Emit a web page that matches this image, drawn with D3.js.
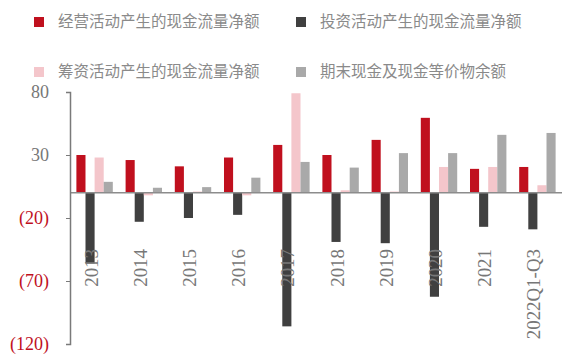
<!DOCTYPE html>
<html>
<head>
<meta charset="utf-8">
<script src="https://cdn.jsdelivr.net/npm/d3@7"></script>
<style>
  html, body { margin: 0; padding: 0; background: #fff; }
  svg { display: block; font-family: "Noto Sans CJK SC", "Noto Sans", sans-serif; }
</style>
</head>
<body>
<svg id="chart" width="577" height="356"></svg>
<script>
// Categories (years) and the four cash-flow series (亿元)
const years = ["2013", "2014", "2015", "2016", "2017", "2018", "2019", "2020", "2021", "2022Q1-Q3"];
const operating = [30, 26, 21, 28, 38, 30, 42, 59.5, 19, 20.5];
const investing = [-56, -23, -20, -17.5, -106, -39, -40, -82.5, -27, -29];
const financing = [28, -2, 1, -2, 79, 2, 1, 20.5, 20.5, 6];
const endingCash = [8.7, 4, 4.5, 12, 24.5, 20, 31.5, 31.5, 46, 47.5];

const seriesNames = ["经营活动产生的现金流量净额", "投资活动产生的现金流量净额", "筹资活动产生的现金流量净额", "期末现金及现金等价物余额"];
const seriesColors = ["#c0101e", "#404040", "#f4c6cb", "#a9a9a9"];
const yTicks = [80, 30, -20, -70, -120];

const seriesValues = [operating, investing, financing, endingCash];
const svg = d3.select("#chart");

const x0 = d3.scaleBand().domain(years).range([70, 562]).paddingInner(0.26).paddingOuter(0.13);
const x1 = d3.scaleBand().domain(d3.range(seriesNames.length)).range([0, x0.bandwidth()]).padding(0);
const y = d3.scaleLinear().domain([-120, 80]).range([344, 92]);

const fmt = v => v < 0 ? "(" + Math.abs(v) + ")" : String(v);

// Bars
const groups = svg.append("g").selectAll("g")
  .data(years).join("g")
  .attr("transform", d => `translate(${x0(d)},0)`);

groups.selectAll("rect")
  .data((d, i) => seriesValues.map((vals, s) => ({ s, v: vals[i] })))
  .join("rect")
  .attr("x", d => x1(d.s))
  .attr("width", x1.bandwidth())
  .attr("y", d => y(Math.max(0, d.v)))
  .attr("height", d => Math.abs(y(d.v) - y(0)))
  .attr("fill", d => seriesColors[d.s]);

// Zero baseline
svg.append("line")
  .attr("x1", 70).attr("x2", 562)
  .attr("y1", y(0)).attr("y2", y(0))
  .attr("stroke", "#8c8c8c").attr("stroke-width", 1.5);

// Y axis
const yAxis = svg.append("g")
  .attr("transform", "translate(70,0)")
  .call(d3.axisLeft(y).tickValues(yTicks).tickFormat(fmt).tickSize(4).tickPadding(17));
yAxis.select(".domain").attr("stroke", "#7a7a7a").attr("stroke-width", 1.5);
yAxis.selectAll(".tick line").attr("stroke", "#7a7a7a");
yAxis.selectAll(".tick text")
  .attr("font-size", 18)
  .attr("font-family", "'Liberation Serif', serif")
  .attr("fill", d => d < 0 ? "#c0101e" : "#777");

// Category labels, rotated
svg.append("g").selectAll("text")
  .data(years).join("text")
  .attr("transform", d => `translate(${x0(d) + x0.bandwidth() / 2 + 3},249) rotate(-90) scale(1.05,1)`)
  .attr("text-anchor", "end")
  .attr("font-size", 18)
  .attr("font-family", "'Liberation Serif', serif")
  .attr("fill", "#777")
  .text(d => d);

// Legend (2 x 2)
const legendPos = [[34, 22], [296, 22], [34, 72], [296, 72]];
const legend = svg.append("g").selectAll("g")
  .data(seriesNames).join("g")
  .attr("transform", (d, i) => `translate(${legendPos[i][0]},${legendPos[i][1]})`);
legend.append("rect")
  .attr("x", 0).attr("y", -5).attr("width", 10).attr("height", 10)
  .attr("fill", (d, i) => seriesColors[i]);
legend.append("text")
  .attr("x", 24).attr("y", 0).attr("dy", "0.35em")
  .attr("font-size", 15.5)
  .attr("fill", "#8a8a8a")
  .text(d => d);
</script>
</body>
</html>
